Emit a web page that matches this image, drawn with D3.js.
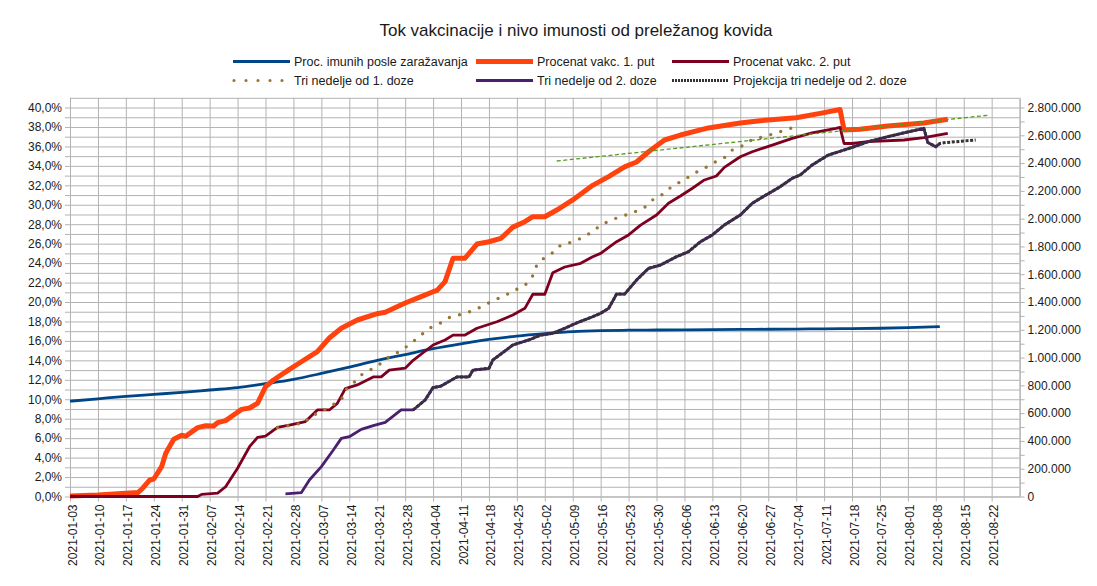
<!DOCTYPE html>
<html>
<head>
<meta charset="utf-8">
<script src="https://cdnjs.cloudflare.com/ajax/libs/d3/7.8.5/d3.min.js"></script>
<style>
  body { margin: 0; background: #fff; }
  text { font-family: "Liberation Sans", Arial, sans-serif; fill: #1a1a1a; }
</style>
</head>
<body>
<div id="chart"></div>
<script>
// values in percent, dates
const imuniPosleZarazavanja = [
  ['2021-01-03', 9.8], ['2021-01-10', 10.05], ['2021-01-17', 10.3], ['2021-01-24', 10.5],
  ['2021-01-31', 10.7], ['2021-02-07', 10.95], ['2021-02-14', 11.2], ['2021-02-21', 11.6],
  ['2021-02-28', 12.05], ['2021-03-07', 12.65], ['2021-03-14', 13.3], ['2021-03-21', 14.0],
  ['2021-03-28', 14.6], ['2021-04-04', 15.2], ['2021-04-11', 15.7], ['2021-04-18', 16.15],
  ['2021-04-25', 16.5], ['2021-05-02', 16.75], ['2021-05-09', 16.95], ['2021-05-16', 17.05],
  ['2021-05-23', 17.1], ['2021-05-30', 17.12], ['2021-06-06', 17.14], ['2021-06-13', 17.16],
  ['2021-06-20', 17.18], ['2021-06-27', 17.2], ['2021-07-04', 17.22], ['2021-07-11', 17.24],
  ['2021-07-18', 17.27], ['2021-07-25', 17.3], ['2021-08-01', 17.36], ['2021-08-09', 17.47]
];

const vakc1Put = [
  ['2021-01-03', 0.05], ['2021-01-10', 0.15], ['2021-01-17', 0.33], ['2021-01-20', 0.4],
  ['2021-01-21', 0.75], ['2021-01-23', 1.7], ['2021-01-24', 1.8], ['2021-01-26', 3.1],
  ['2021-01-27', 4.44], ['2021-01-29', 5.88], ['2021-01-31', 6.3], ['2021-02-01', 6.2],
  ['2021-02-04', 7.08], ['2021-02-06', 7.28], ['2021-02-08', 7.25], ['2021-02-09', 7.6],
  ['2021-02-11', 7.8], ['2021-02-13', 8.38], ['2021-02-15', 8.96], ['2021-02-17', 9.1],
  ['2021-02-19', 9.58], ['2021-02-21', 11.29], ['2021-02-23', 11.98], ['2021-02-27', 13.08],
  ['2021-03-01', 13.6], ['2021-03-06', 14.9], ['2021-03-09', 16.3], ['2021-03-12', 17.3],
  ['2021-03-16', 18.15], ['2021-03-21', 18.8], ['2021-03-23', 18.95], ['2021-03-28', 19.9],
  ['2021-04-01', 20.55], ['2021-04-04', 21.06], ['2021-04-05', 21.2], ['2021-04-07', 22.1],
  ['2021-04-09', 24.5], ['2021-04-12', 24.5], ['2021-04-15', 25.96], ['2021-04-18', 26.2],
  ['2021-04-21', 26.55], ['2021-04-24', 27.7], ['2021-04-27', 28.26], ['2021-04-29', 28.77],
  ['2021-05-02', 28.77], ['2021-05-05', 29.46], ['2021-05-09', 30.5], ['2021-05-14', 32.0],
  ['2021-05-18', 32.9], ['2021-05-22', 33.9], ['2021-05-25', 34.4], ['2021-05-28', 35.45],
  ['2021-06-01', 36.66], ['2021-06-05', 37.17], ['2021-06-12', 37.9], ['2021-06-20', 38.4],
  ['2021-06-25', 38.64], ['2021-07-04', 38.95], ['2021-07-10', 39.4], ['2021-07-15', 39.8],
  ['2021-07-16', 37.7], ['2021-07-20', 37.76], ['2021-07-27', 38.1], ['2021-08-05', 38.4],
  ['2021-08-11', 38.8]
];

const vakc2Put = [
  ['2021-01-03', 0], ['2021-02-04', 0], ['2021-02-05', 0.22], ['2021-02-09', 0.35],
  ['2021-02-11', 1.0], ['2021-02-14', 2.9], ['2021-02-17', 5.12], ['2021-02-19', 6.08],
  ['2021-02-21', 6.22], ['2021-02-24', 7.1], ['2021-02-27', 7.35], ['2021-03-01', 7.53],
  ['2021-03-03', 7.7], ['2021-03-06', 8.9], ['2021-03-09', 8.9], ['2021-03-11', 9.58],
  ['2021-03-13', 11.1], ['2021-03-16', 11.47], ['2021-03-20', 12.3], ['2021-03-22', 12.3],
  ['2021-03-24', 13.0], ['2021-03-28', 13.2], ['2021-03-30', 14.0], ['2021-04-04', 15.58],
  ['2021-04-07', 16.1], ['2021-04-09', 16.6], ['2021-04-12', 16.6], ['2021-04-15', 17.3],
  ['2021-04-20', 17.97], ['2021-04-24', 18.66], ['2021-04-27', 19.35], ['2021-04-29', 20.8],
  ['2021-05-02', 20.8], ['2021-05-04', 23.0], ['2021-05-07', 23.6], ['2021-05-11', 23.98],
  ['2021-05-14', 24.66], ['2021-05-16', 25.0], ['2021-05-20', 26.2], ['2021-05-23', 26.9],
  ['2021-05-26', 27.9], ['2021-05-30', 28.95], ['2021-06-02', 30.15], ['2021-06-05', 30.9],
  ['2021-06-08', 31.7], ['2021-06-11', 32.55], ['2021-06-14', 32.96], ['2021-06-16', 33.85],
  ['2021-06-20', 34.94], ['2021-06-23', 35.45], ['2021-06-28', 36.14], ['2021-07-03', 36.83],
  ['2021-07-08', 37.4], ['2021-07-14', 37.86], ['2021-07-15', 37.96], ['2021-07-16', 36.3],
  ['2021-07-18', 36.3], ['2021-07-22', 36.5], ['2021-07-31', 36.66], ['2021-08-05', 36.9],
  ['2021-08-11', 37.35]
];

const triNedelje1Doze = [
  ['2021-02-24', 7.1], ['2021-02-27', 7.3], ['2021-03-03', 7.6], ['2021-03-04', 8.2],
  ['2021-03-07', 8.7], ['2021-03-09', 9.23], ['2021-03-12', 9.92], ['2021-03-13', 10.95],
  ['2021-03-15', 11.64], ['2021-03-17', 12.5], ['2021-03-20', 13.18], ['2021-03-22', 13.7],
  ['2021-03-24', 14.38], ['2021-03-27', 15.0], ['2021-03-30', 15.92], ['2021-04-01', 16.6],
  ['2021-04-03', 17.3], ['2021-04-06', 17.87], ['2021-04-08', 18.39], ['2021-04-11', 18.73],
  ['2021-04-14', 19.1], ['2021-04-17', 19.7], ['2021-04-19', 20.14], ['2021-04-22', 20.65],
  ['2021-04-24', 21.13], ['2021-04-27', 21.7], ['2021-04-29', 22.7], ['2021-04-30', 23.8],
  ['2021-05-02', 24.6], ['2021-05-04', 25.07], ['2021-05-06', 25.86], ['2021-05-09', 26.17],
  ['2021-05-11', 26.55], ['2021-05-14', 27.23], ['2021-05-16', 27.92], ['2021-05-19', 28.5],
  ['2021-05-21', 28.77], ['2021-05-24', 29.18], ['2021-05-27', 29.73], ['2021-05-29', 30.49],
  ['2021-06-01', 31.18], ['2021-06-03', 31.96], ['2021-06-06', 32.55], ['2021-06-08', 33.16],
  ['2021-06-11', 33.75], ['2021-06-13', 34.26], ['2021-06-16', 34.84], ['2021-06-18', 35.63],
  ['2021-06-21', 36.14], ['2021-06-23', 36.73], ['2021-06-26', 37.0], ['2021-06-29', 37.4],
  ['2021-07-02', 37.76], ['2021-07-04', 38.1]
];

const triNedelje2Doze = [
  ['2021-02-26', 0.26], ['2021-03-02', 0.4], ['2021-03-04', 1.7], ['2021-03-07', 3.07],
  ['2021-03-10', 4.78], ['2021-03-12', 5.98], ['2021-03-14', 6.15], ['2021-03-17', 6.9],
  ['2021-03-20', 7.28], ['2021-03-23', 7.63], ['2021-03-27', 8.9], ['2021-03-30', 8.9],
  ['2021-04-02', 9.92], ['2021-04-04', 11.2], ['2021-04-06', 11.36], ['2021-04-10', 12.3],
  ['2021-04-13', 12.3], ['2021-04-14', 13.0], ['2021-04-18', 13.18], ['2021-04-19', 14.04],
  ['2021-04-24', 15.58], ['2021-04-28', 16.1], ['2021-05-01', 16.6], ['2021-05-04', 16.78],
  ['2021-05-07', 17.3], ['2021-05-10', 17.85], ['2021-05-14', 18.49], ['2021-05-16', 18.84],
  ['2021-05-18', 19.35], ['2021-05-20', 20.82], ['2021-05-22', 20.82], ['2021-05-25', 22.26],
  ['2021-05-28', 23.46], ['2021-05-31', 23.8], ['2021-06-04', 24.66], ['2021-06-07', 25.17],
  ['2021-06-10', 26.2], ['2021-06-13', 26.9], ['2021-06-16', 27.92], ['2021-06-20', 28.95],
  ['2021-06-23', 30.15], ['2021-06-26', 30.9], ['2021-06-30', 31.86], ['2021-07-03', 32.72],
  ['2021-07-05', 33.06], ['2021-07-08', 34.09], ['2021-07-12', 35.1], ['2021-07-16', 35.63],
  ['2021-07-18', 35.9], ['2021-07-22', 36.48], ['2021-07-27', 37.0], ['2021-07-31', 37.4],
  ['2021-08-05', 37.86], ['2021-08-06', 36.4], ['2021-08-08', 35.97], ['2021-08-09', 36.3]
];

const projekcija2Doze = [
  ['2021-03-30', 8.9], ['2021-04-02', 9.92], ['2021-04-04', 11.2], ['2021-04-06', 11.36],
  ['2021-04-10', 12.3], ['2021-04-13', 12.3], ['2021-04-14', 13.0], ['2021-04-18', 13.18],
  ['2021-04-19', 14.04], ['2021-04-24', 15.58], ['2021-04-28', 16.1], ['2021-05-01', 16.6],
  ['2021-05-04', 16.78], ['2021-05-07', 17.3], ['2021-05-10', 17.85], ['2021-05-14', 18.49],
  ['2021-05-16', 18.84], ['2021-05-18', 19.35], ['2021-05-20', 20.82], ['2021-05-22', 20.82],
  ['2021-05-25', 22.26], ['2021-05-28', 23.46], ['2021-05-31', 23.8], ['2021-06-04', 24.66],
  ['2021-06-07', 25.17], ['2021-06-10', 26.2], ['2021-06-13', 26.9], ['2021-06-16', 27.92],
  ['2021-06-20', 28.95], ['2021-06-23', 30.15], ['2021-06-26', 30.9], ['2021-06-30', 31.86],
  ['2021-07-03', 32.72], ['2021-07-05', 33.06], ['2021-07-08', 34.09], ['2021-07-12', 35.1],
  ['2021-07-16', 35.63], ['2021-07-18', 35.9], ['2021-07-22', 36.48], ['2021-07-27', 37.0],
  ['2021-07-31', 37.4], ['2021-08-05', 37.86], ['2021-08-06', 36.4], ['2021-08-08', 35.97],
  ['2021-08-09', 36.3], ['2021-08-10', 36.38], ['2021-08-14', 36.52], ['2021-08-18', 36.66]
];

// linear trend line (not in legend)
const trend = [['2021-05-05', 34.5], ['2021-08-21', 39.2]];

const xTickLabels = [
  '2021-01-03', '2021-01-10', '2021-01-17', '2021-01-24', '2021-01-31', '2021-02-07',
  '2021-02-14', '2021-02-21', '2021-02-28', '2021-03-07', '2021-03-14', '2021-03-21',
  '2021-03-28', '2021-04-04', '2021-04-11', '2021-04-18', '2021-04-25', '2021-05-02',
  '2021-05-09', '2021-05-16', '2021-05-23', '2021-05-30', '2021-06-06', '2021-06-13',
  '2021-06-20', '2021-06-27', '2021-07-04', '2021-07-11', '2021-07-18', '2021-07-25',
  '2021-08-01', '2021-08-08', '2021-08-15', '2021-08-22'
];
const leftTicks = [0, 2, 4, 6, 8, 10, 12, 14, 16, 18, 20, 22, 24, 26, 28, 30, 32, 34, 36, 38, 40];
const rightTicks = [0, 200000, 400000, 600000, 800000, 1000000, 1200000, 1400000,
  1600000, 1800000, 2000000, 2200000, 2400000, 2600000, 2800000];

const title = "Tok vakcinacije i nivo imunosti od preležanog kovida";

// Set dimensions
const W = 1097, H = 586;
const plotLeft = 70, plotRight = 1019.6, plotTop = 97.8, plotBottom = 496.5;
const parse = d3.utcParse("%Y-%m-%d");

const svg = d3.select("#chart")
  .append("svg")
    .attr("width", W)
    .attr("height", H);

// Create scales
const x = d3.scaleUtc()
  .domain([parse('2021-01-03'), parse('2021-08-29')])
  .range([plotLeft, plotRight]);

const y = d3.scaleLinear()
  .domain([0, 41])
  .range([plotBottom, plotTop]);

// right axis: population count, 40% = 2.800.000
const yR = d3.scaleLinear()
  .domain([0, 2870000])
  .range([plotBottom, plotTop]);

const gridColor = "#b3b3b3";
const numFmt = d3.formatLocale({ decimal: ",", thousands: ".", grouping: [3], currency: ["", ""] });
const pctFmt = numFmt.format(".1f");
const cntFmt = numFmt.format(",");

// horizontal grid, one per percent
svg.append("g")
  .attr("transform", `translate(${plotLeft},0)`)
  .call(d3.axisLeft(y)
    .tickValues(d3.range(0, 42, 1))
    .tickSize(-(plotRight - plotLeft))
    .tickFormat(""))
  .call(g => g.select(".domain").remove())
  .call(g => g.selectAll("line").attr("stroke", gridColor));

// vertical grid, one per week
svg.append("g")
  .attr("transform", `translate(0,${plotBottom})`)
  .call(d3.axisBottom(x)
    .tickValues(xTickLabels.map(parse).concat([parse('2021-08-29')]))
    .tickSize(-(plotBottom - plotTop))
    .tickFormat(""))
  .call(g => g.select(".domain").remove())
  .call(g => g.selectAll("line").attr("stroke", gridColor));

// Left axis
svg.append("g")
  .attr("transform", `translate(${plotLeft},0)`)
  .call(d3.axisLeft(y)
    .tickValues(d3.range(0, 41, 1))
    .tickSize(5)
    .tickSizeOuter(0)
    .tickPadding(3)
    .tickFormat(d => leftTicks.includes(d) ? pctFmt(d) + "%" : ""))
  .call(g => g.select(".domain").attr("stroke", gridColor))
  .call(g => g.selectAll("line").attr("stroke", gridColor))
  .call(g => g.selectAll("text").style("font-size", "12px").attr("fill", "#1a1a1a"));

// Right axis
svg.append("g")
  .attr("transform", `translate(${plotRight},0)`)
  .call(d3.axisRight(yR)
    .tickValues(d3.range(0, 2800001, 100000))
    .tickSize(5)
    .tickSizeOuter(0)
    .tickPadding(3)
    .tickFormat(d => rightTicks.includes(d) ? cntFmt(d) : ""))
  .call(g => g.select(".domain").attr("stroke", gridColor))
  .call(g => g.selectAll("line").attr("stroke", gridColor))
  .call(g => g.selectAll("text").style("font-size", "12px").attr("fill", "#1a1a1a"));

// Bottom axis
svg.append("g")
  .attr("transform", `translate(0,${plotBottom})`)
  .call(d3.axisBottom(x)
    .tickValues(xTickLabels.map(parse))
    .tickSize(5)
    .tickSizeOuter(0)
    .tickFormat(d3.utcFormat("%Y-%m-%d")))
  .call(g => g.select(".domain").attr("stroke", gridColor))
  .call(g => g.selectAll("line").attr("stroke", gridColor))
  .selectAll("text")
    .style("font-size", "12px")
    .attr("fill", "#1a1a1a")
    .attr("transform", "rotate(-90)")
    .style("text-anchor", "end")
    .attr("x", -8)
    .attr("y", 0)
    .attr("dx", 0)
    .attr("dy", "0.5em");

// Create line generator
const line = d3.line()
  .x(d => x(parse(d[0])))
  .y(d => y(d[1]));

const series = [
  { data: imuniPosleZarazavanja, color: "#004586", width: 2.8, curve: d3.curveMonotoneX },
  { data: vakc1Put, color: "#ff420e", width: 5 },
  { data: vakc2Put, color: "#7e0021", width: 2.8 },
  { data: triNedelje1Doze, color: "#9a7634", width: 3.4, dash: "0,10.5", cap: "round" },
  { data: triNedelje2Doze, color: "#4b1f6f", width: 2.8 },
  { data: projekcija2Doze, color: "#333333", width: 3, dash: "3,1.6" },
  { data: trend, color: "#579d1c", width: 1.3, dash: "4,2.5" }
];

series.forEach(s => {
  svg.append("path")
    .datum(s.data)
    .attr("fill", "none")
    .attr("stroke", s.color)
    .attr("stroke-width", s.width)
    .attr("stroke-linejoin", "round")
    .attr("stroke-linecap", s.cap || "butt")
    .attr("stroke-dasharray", s.dash || null)
    .attr("d", line.curve(s.curve || d3.curveLinear));
});

// Add title
svg.append("text")
  .attr("x", 576)
  .attr("y", 36)
  .attr("text-anchor", "middle")
  .style("font-size", "17px")
  .text(title);

// Legend
const legend = [
  { label: "Proc. imunih posle zaražavanja", color: "#004586", width: 3, col: 0, row: 0 },
  { label: "Procenat vakc. 1. put", color: "#ff420e", width: 5, col: 1, row: 0 },
  { label: "Procenat vakc. 2. put", color: "#7e0021", width: 3, col: 2, row: 0 },
  { label: "Tri nedelje od 1. doze", color: "#9a7634", width: 3.2, col: 0, row: 1, dash: "0,12", cap: "round" },
  { label: "Tri nedelje od 2. doze", color: "#4b1f6f", width: 3, col: 1, row: 1 },
  { label: "Projekcija tri nedelje od 2. doze", color: "#333333", width: 3, col: 2, row: 1, dash: "2,1" }
];
const colX = [233, 476, 672];
const rowY = [61.5, 80.5];

const lg = svg.append("g").selectAll("g")
  .data(legend)
  .enter()
  .append("g")
    .attr("transform", d => `translate(${colX[d.col]},${rowY[d.row]})`);

lg.append("line")
  .attr("x1", d => d.cap ? 1 : 0)
  .attr("x2", 57)
  .attr("stroke", d => d.color)
  .attr("stroke-width", d => d.width)
  .attr("stroke-linecap", d => d.cap || "butt")
  .attr("stroke-dasharray", d => d.dash || null);

lg.append("text")
  .attr("x", 61)
  .attr("dy", "0.36em")
  .style("font-size", "12.5px")
  .text(d => d.label);
</script>
</body>
</html>
